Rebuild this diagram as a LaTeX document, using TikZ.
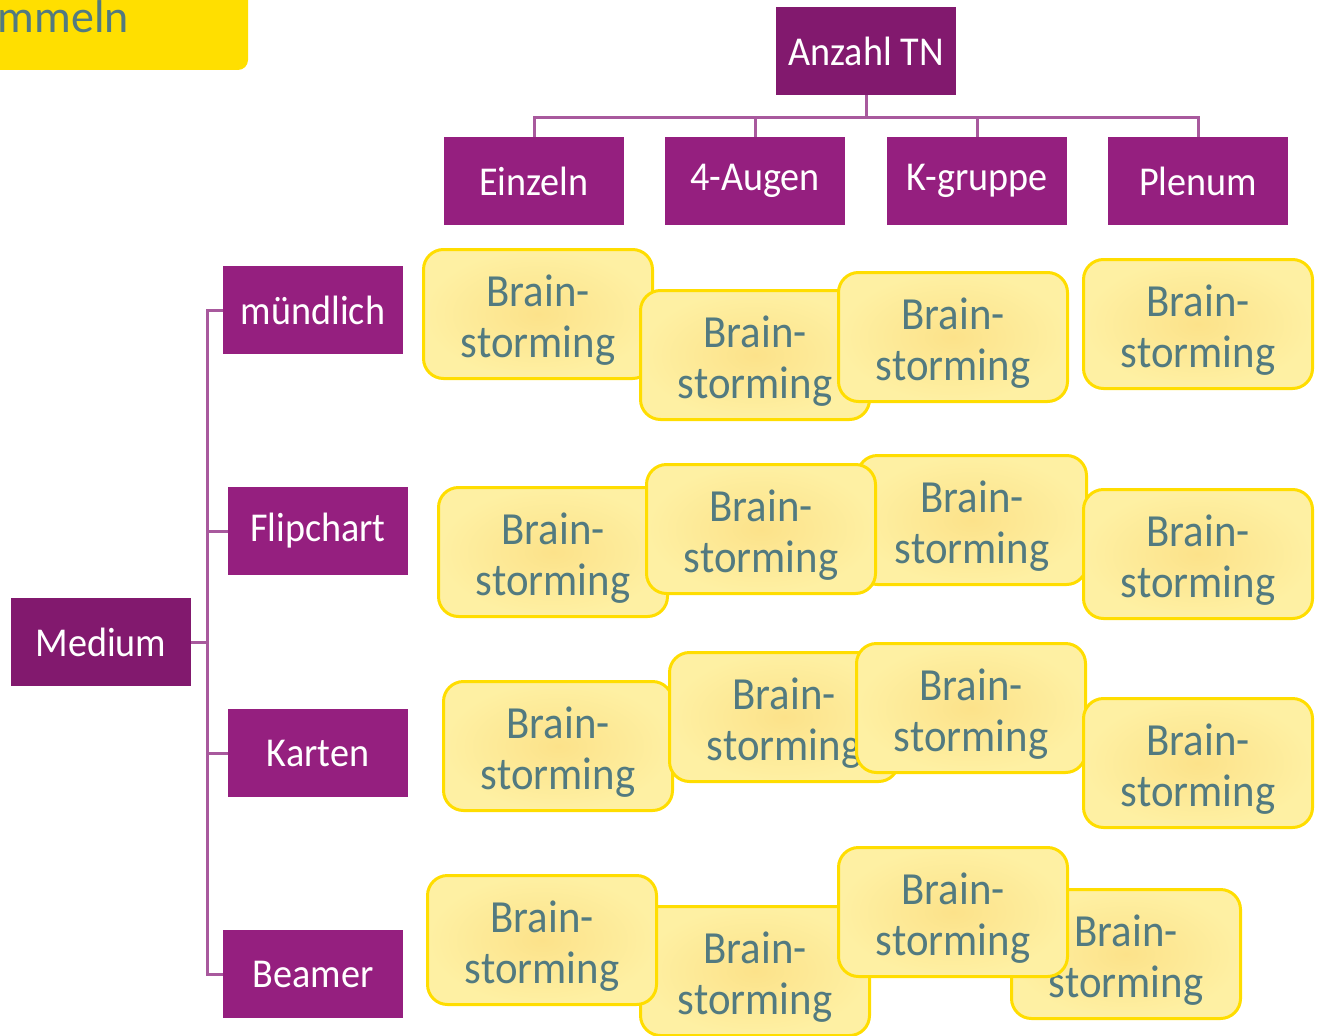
\documentclass[tikz,border=0pt]{standalone}
\usepackage{fontspec}
\setmainfont{Carlito}[FakeStretch=0.93]
\newfontfamily\titelfont{Carlito}
\usepackage{xcolor}
\newcommand{\oben}{\rule{0pt}{44pt}}

\begin{document}
\begin{tikzpicture}[x=1pt,y=-1pt,
        kasten/.style={fill=lila,text=white,minimum width=180pt,minimum height=88pt,inner sep=0pt,font=\fontsize{41}{45}\selectfont},
        karte/.style={draw=gelbrand,line width=3pt,rounded corners=20pt,inner color=gelbinnen,outer color=gelbaussen,text=textgrau,
            minimum width=229pt,minimum height=129pt,inner sep=0pt,align=center,font=\fontsize{46}{51}\selectfont},
        ast/.style={draw=astlila,line width=3pt}]
        \definecolor{lila}{HTML}{951F7F}
        \definecolor{dunkellila}{HTML}{82196E}
        \definecolor{astlila}{HTML}{A8599D}
        \definecolor{gelbrand}{HTML}{FFDD00}
        \definecolor{gelbinnen}{HTML}{FCE28A}
        \definecolor{gelbaussen}{HTML}{FEF0A3}
        \definecolor{textgrau}{HTML}{527A80}
        \definecolor{kopfgelb}{HTML}{FFDF00}

        \useasboundingbox (0,0) rectangle (1321,1035);
        \clip (0,0) rectangle (1321,1035);

        \fill[kopfgelb,rounded corners=10pt] (-20,-20) rectangle (248,70);
        \node[anchor=base east,inner sep=0pt,text=textgrau,font=\titelfont\fontsize{46}{50}\selectfont] (titel) at (129,33) {Sammeln};

        \node[kasten,fill=dunkellila] (tn) at (866,51) {Anzahl TN};
        \node[kasten] (einzeln) at (534,181) {Einzeln};
        \node[kasten] (augen) at (755,181) {4-Augen};
        \node[kasten] (kgruppe) at (977,181) {K-gruppe};
        \node[kasten] (plenum) at (1198,181) {Plenum};

        \node[kasten,fill=dunkellila] (medium) at (101,642) {Medium};
        \node[kasten] (muendlich) at (313,310) {mündlich};
        \node[kasten] (flipchart) at (318,531) {Flipchart};
        \node[kasten] (karten) at (318,753) {Karten};
        \node[kasten] (beamer) at (313,974) {Beamer};

        \draw[ast] (tn.south) -- ++(0,22) coordinate (tnast);
        \foreach \k in {einzeln,augen,kgruppe,plenum}
            \draw[ast] (tnast) -| (\k.north);
        \draw[ast] (medium.east) -- ++(16,0) coordinate (mast);
        \foreach \k in {muendlich,flipchart,karten,beamer}
            \draw[ast] (mast) |- (\k.west);

        \node[karte] (a1) at (538,314) {\oben Brain-\\storming};
        \node[karte] (a2) at (755,355) {\oben Brain-\\storming};
        \node[karte] (a3) at (953,337) {\oben Brain-\\storming};
        \node[karte] (a4) at (1198,324) {\oben Brain-\\storming};

        \node[karte] (b1) at (553,552) {\oben Brain-\\storming};
        \node[karte] (b3) at (972,520) {\oben Brain-\\storming};
        \node[karte] (b2) at (761,529) {\oben Brain-\\storming};
        \node[karte] (b4) at (1198,554) {\oben Brain-\\storming};

        \node[karte] (c1) at (558,746) {\oben Brain-\\storming};
        \node[karte] (c2) at (784,717) {\oben Brain-\\storming};
        \node[karte] (c3) at (971,708) {\oben Brain-\\storming};
        \node[karte] (c4) at (1198,763) {\oben Brain-\\storming};

        \node[karte] (d2) at (755,971) {\oben Brain-\\storming};
        \node[karte] (d1) at (542,940) {\oben Brain-\\storming};
        \node[karte] (d4) at (1126,954) {\oben Brain-\\storming};
        \node[karte] (d3) at (953,912) {\oben Brain-\\storming};
    \end{tikzpicture}
\end{document}
